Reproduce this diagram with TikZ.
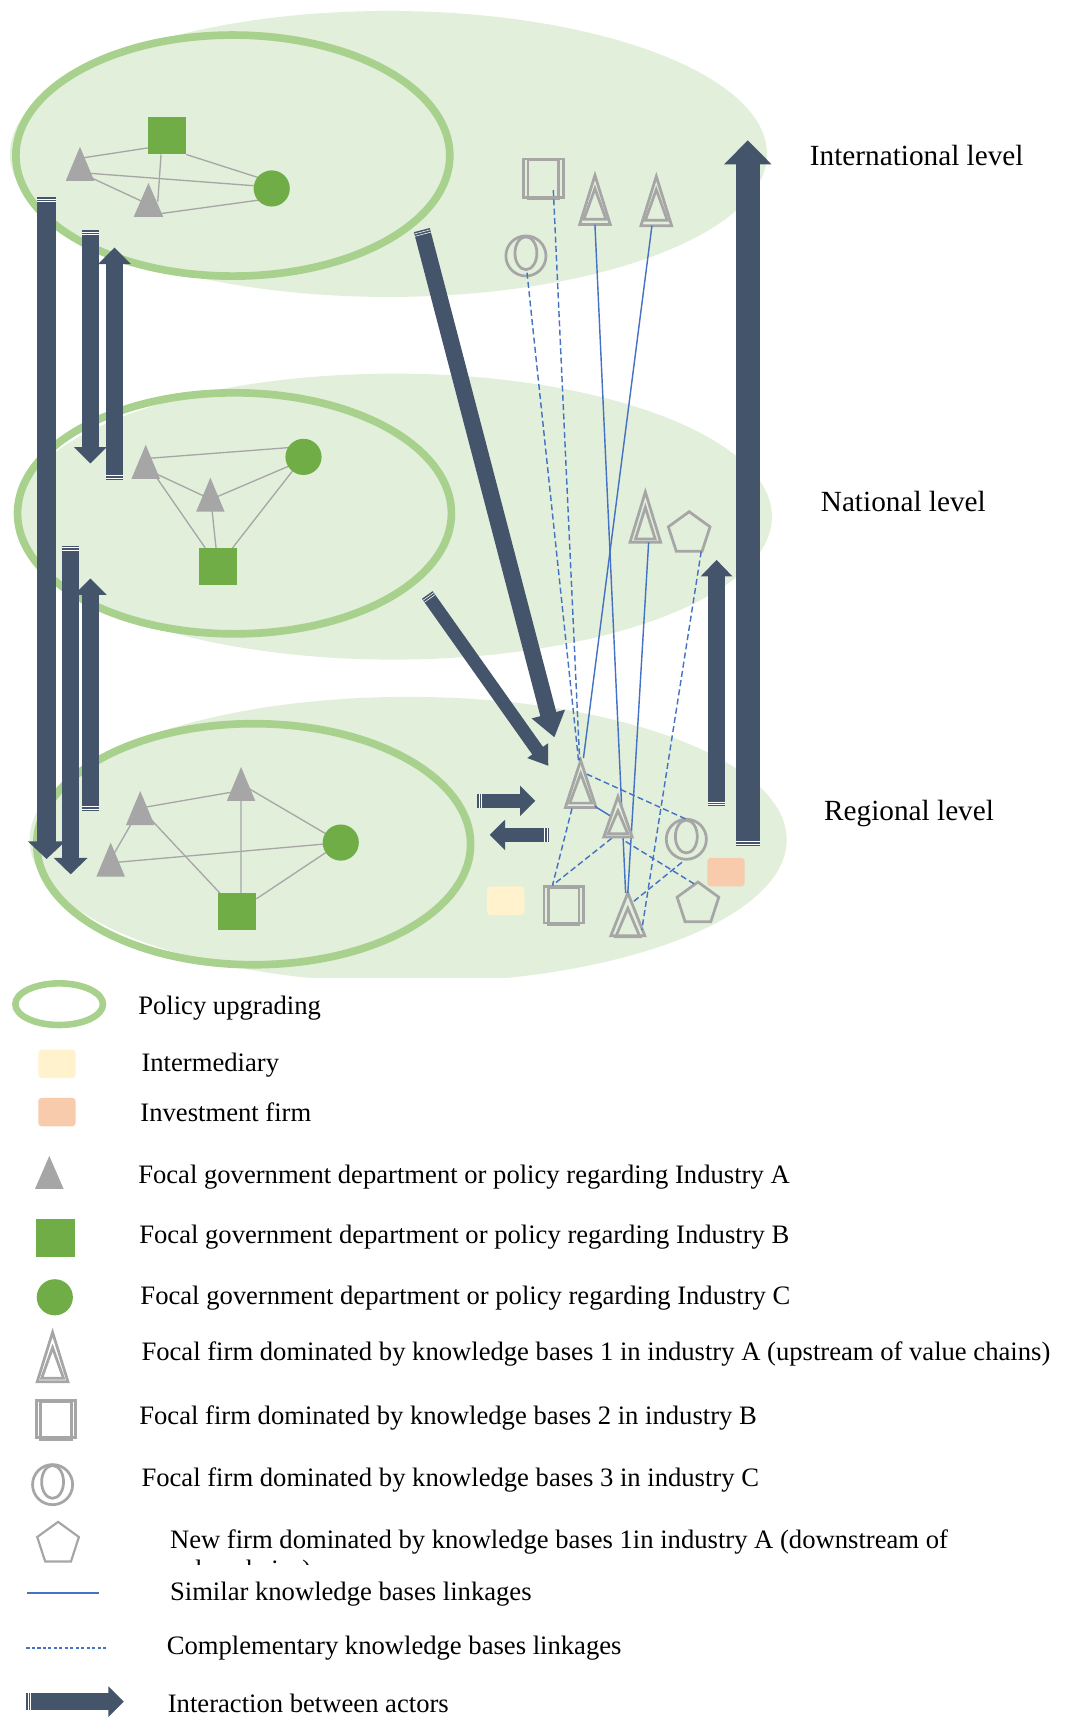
\documentclass[tikz,border=0pt]{standalone}
\usepackage{fontspec}
\setmainfont{Liberation Serif}
\usetikzlibrary{arrows.meta,calc,shapes.geometric}
\definecolor{bigg}{HTML}{E2EFDA}
\definecolor{ringg}{HTML}{A9D18E}
\definecolor{solidg}{HTML}{70AD47}
\definecolor{gr}{HTML}{A6A6A6}
\definecolor{darkb}{HTML}{44546A}
\definecolor{linkb}{HTML}{4472C4}
\definecolor{yel}{HTML}{FFF2CC}
\definecolor{ora}{HTML}{F8CBAD}
\tikzset{
 lab/.style={font=\fontsize{24.3}{28}\selectfont,anchor=base west,inner sep=0pt,text=black},
 levlab/.style={lab,font=\fontsize{26.7}{30}\selectfont},
 ringe/.style={draw=ringg,line width=7pt},
 anch/.style={inner sep=0pt,outer sep=0pt},
 govsq/.style={anch,minimum width=35pt,minimum height=34pt},
 govci/.style={anch,circle,minimum size=33pt},
 ed/.style={gr,line width=1.2pt},
 sim/.style={linkb,line width=1.3pt},
 comp/.style={linkb,line width=1.3pt,dash pattern=on 5.5pt off 3pt},
 firm/.style={draw=gr,line width=2.5pt,line join=miter},
 penta/.style={anch,regular polygon,regular polygon sides=5,draw=gr,line width=2.5pt,minimum size=40pt},
 rr/.style={anch,rounded corners=3pt,minimum width=34pt,minimum height=26pt},
 flowline/.style={darkb}
}
% government triangle: name, x, y apex, y base, half width
\newcommand\gt[5]{\node[anch,minimum width=#5*2pt,minimum height=#4pt-#3pt] (#1) at (#2,{(#3+#4)/2}) {};}
\newcommand\gtf[1]{\fill[gr] (#1.south west)--(#1.south east)--(#1.north)--cycle;}
% government square and circle fills, laid over the connectors
\newcommand\gsf[1]{\fill[solidg] (#1.south west) rectangle (#1.north east);}
\newcommand\gcf[1]{\fill[solidg] (#1.center) circle [radius=16.5pt];}
% firm triangle outline: x, apex, base, half width, inner apex offset, inner base offset, inner half width
\newcommand\ftd[7]{\draw[firm] (#1-#4,#3)--(#1+#4,#3)--(#1,#2)--cycle;
 \draw[firm] (#1-#7,#3-#6)--(#1+#7,#3-#6)--(#1,#2+#5)--cycle;}
\newcommand\ftn[5]{\node[anch,minimum width=#5*2pt,minimum height=#4pt-#3pt] (#1) at (#2,{(#3+#4)/2}) {};}
\newcommand\ft[8]{\ftn{#1}{#2}{#3}{#4}{#5}\ftd{#2}{#3}{#4}{#5}{#6}{#7}{#8}}
% firm square
\newcommand\fs[5]{\node[anch,minimum width=#4pt-#2pt,minimum height=#5pt-#3pt] (#1) at ({(#2+#4)/2},{(#3+#5)/2}) {};
 \draw[firm] (#2,#3) rectangle (#4,#5);
 \draw[firm] (#2+4,#3+1) rectangle (#4-4,#5+1.5);}
% firm circle
\newcommand\fc[3]{\node[anch,circle,minimum size=36.6pt] (#1) at (#2,#3) {};
 \draw[firm] (#2,#3) ellipse [x radius=18.3pt,y radius=18.3pt];
 \draw[firm] (#2,#3-2.5) ellipse [x radius=10pt,y radius=15pt];}
% block arrow: tail, head, shaft, head width, head length
\newcommand\flow[5]{\draw[flowline,line width=#3pt,-{Triangle[length=#5pt,width=#4pt]}] (#1)--(#2);
 \foreach \d in {1.7,3.9} {\coordinate (s) at ($(#1)!\d pt!(#2)$);
  \draw[white,line width=.5pt] ($(s)!#3*0.5pt!90:(#2)$)--($(s)!#3*0.5pt!-90:(#2)$);}}
\begin{document}
\begin{tikzpicture}[x=1pt,y=-1pt]
\useasboundingbox (0,0) rectangle (974,1568);
% level ellipses
\begin{scope}
\clip (0,0) rectangle (974,892);
\fill[bigg] (354.5,140.5) ellipse [x radius=345.5pt,y radius=130.5pt];
\fill[bigg] (359,471.5) ellipse [x radius=345.5pt,y radius=130.5pt];
\fill[bigg] (372.5,766.5) ellipse [x radius=345.5pt,y radius=130.5pt];
\end{scope}
\draw[ringe] (212.5,142) ellipse [x radius=198pt,y radius=110pt];
\draw[ringe] (214,468.5) ellipse [x radius=198pt,y radius=110pt];
\draw[ringe] (231.5,770.5) ellipse [x radius=198pt,y radius=110pt];
% International actors
\gt{ia}{73}{134}{165}{13}
\gt{ib}{135.5}{167}{198}{13.5}
\node[govsq] (ic) at (152.5,124) {};
\node[govci] (id) at (248,172) {};
\draw[ed] ([yshift=5pt]ia.center)--([yshift=-11pt]ic.west) ([yshift=-8pt]ia.center)--([yshift=2.5pt]id.west)
 ([yshift=-8pt]ia.center)--([yshift=-4pt]ib.center)
 ([xshift=-5.5pt]ic.south)--([xshift=8.5pt,yshift=-17pt]ib.north) (ic.south east)--([yshift=6pt]id.center)
 ([yshift=-14pt]ib.center)--([yshift=-9pt]id.center);
\gtf{ia}\gtf{ib}\gsf{ic}\gcf{id}
% National actors
\gt{na}{133}{406}{437}{13}
\gt{nb}{192}{436}{467}{13}
\node[govsq] (nc) at (199,517) {};
\node[govci] (nd) at (277,417) {};
\draw[ed] ([yshift=3pt]na.center)--([yshift=9.5pt]nd.center) ([yshift=-6.5pt]na.center)--([yshift=-4pt]nb.center)
 ([yshift=-4.5pt]nb.center)--([yshift=-2.7pt]nd.center) (na.center)--(nc) (nb.center)--(nc) (nd)--(nc);
\gtf{na}\gtf{nb}\gsf{nc}\gcf{nd}
% Regional actors
\gt{ra}{128}{722}{753}{13}
\gt{rb}{220}{700}{731}{13}
\gt{re}{101}{769}{800}{13}
\node[govsq] (rc) at (216.5,832) {};
\node[govci] (rd) at (311,769) {};
\draw[ed] (ra.center)--([yshift=-6pt]rb.center) (ra.center)--(re.center) (ra.center)--(rc) (rb.center)--([xshift=3.5pt]rc.center) (rb.center)--(rd) ([yshift=-3pt]re.center)--(rd) (rc)--(rd);
\gtf{ra}\gtf{rb}\gtf{re}\gsf{rc}\gcf{rd}
% intermediaries
\node[rr,fill=yel] (ry) at (461.5,822) {};
\node[rr,fill=ora] (ro) at (662.5,796) {};
% firms
\fs{fsq}{478}{145}{514}{180}
\ft{fta}{543}{160}{205}{14}{12}{5}{10}
\ft{ftb}{599}{161}{206}{14}{12}{5}{10}
\fc{fci}{480}{233.6}
\ft{ntc}{589}{449}{495}{14}{14}{3}{9}
\node[penta] (npe) at (629,487) {};
\ft{rtd}{530}{694}{737}{14}{12}{4}{10}
\ftn{rte}{564}{727}{764}{13}
\ft{rtf}{573}{815}{854}{15.5}{14}{-1}{11}
\fs{rsq}{496.6}{809}{532.5}{842.5}
\fc{rci}{626.4}{766}
\node[penta] (rpe) at (637,825) {};
% linkages
\draw[sim] (fta.south)--([xshift=-2pt]rtf.north);
\draw[sim] ([xshift=-4pt]ftb.south)--([xshift=2.5pt,yshift=2pt]rtd.north);
\draw[sim] ([xshift=3pt]ntc.south)--(rtf.north);
\draw[sim] ([xshift=13pt,yshift=1pt]rtd.south)--([xshift=-5.6pt]rte.center);
\draw[comp] ([xshift=1pt,yshift=3pt]fci.south)--([xshift=-2pt]rtd.north);
\draw[comp] ([xshift=27pt,yshift=6.5pt]fsq.south west)--([xshift=-1pt]rtd.north);
\draw[comp] ([xshift=11pt]npe.south)--([xshift=12.7pt,yshift=5pt]rtf.south);
\draw[comp] ([xshift=5.5pt,yshift=30.5pt]rtd.south)--(rci.north);
\draw[comp] ([xshift=-8pt,yshift=-1pt]rtd.south)--([xshift=-10.3pt,yshift=1pt]rsq.north);
\draw[comp] ([xshift=-5.6pt,yshift=-1pt]rte.south)--([xshift=-10.3pt,yshift=1pt]rsq.north);
\draw[comp] ([xshift=7pt,yshift=-4pt]rte.south)--([xshift=-3pt,yshift=-2pt]rpe.north);
\draw[comp] ([xshift=-4pt,yshift=-2.7pt]rci.south)--([xshift=5pt,yshift=-8pt]rtf.north);
% this firm's triangle hides the linkage passing behind it
\fill[bigg] (rte.south west)--(rte.south east)--(rte.north)--cycle;
\ftd{564}{727}{764}{13}{13}{3}{9}
% flows
\coordinate (a1t) at (42.5,180); \coordinate (a1h) at (42.5,784);
\coordinate (a2t) at (82.5,210); \coordinate (a2h) at (82.5,423);
\coordinate (a3t) at (104.5,438); \coordinate (a3h) at (104.5,226);
\coordinate (a4t) at (64.5,498); \coordinate (a4h) at (64.5,798);
\coordinate (a5t) at (82.5,740); \coordinate (a5h) at (82.5,528);
\coordinate (a6t) at (385,210); \coordinate (a6h) at (506,673);
\coordinate (a7t) at (390,543); \coordinate (a7h) at (500.5,699);
\coordinate (a8t) at (654,736); \coordinate (a8h) at (654,511);
\coordinate (a9t) at (682.5,772); \coordinate (a9h) at (682.5,128);
\coordinate (a10t) at (435.6,731); \coordinate (a10h) at (488.6,731);
\coordinate (a11t) at (501,762); \coordinate (a11h) at (447,762);
\flow{a1t}{a1h}{18}{33}{16}
\flow{a2t}{a2h}{15}{29}{15}
\flow{a3t}{a3h}{15}{29}{15}
\flow{a4t}{a4h}{15}{30}{15}
\flow{a5t}{a5h}{15}{29}{15}
\flow{a6t}{a6h}{15}{30}{22}
\flow{a7t}{a7h}{12}{22}{17}
\flow{a8t}{a8h}{15}{28}{15}
\flow{a9t}{a9h}{22}{42}{22}
\flow{a10t}{a10h}{13.4}{27}{14}
\flow{a11t}{a11h}{13.4}{27}{14}
% level labels
\node[levlab] (l1) at (739,151.5) {International level};
\node[levlab] (l2) at (749,466.5) {National level};
\node[levlab] (l3) at (752,748.5) {Regional level};
% legend
\draw[ringg,line width=6pt] (54,916.5) ellipse [x radius=40pt,y radius=19pt];
\node[lab] (t1) at (126,925.5) {Policy upgrading};
\node[rr,fill=yel] (ly) at (52,971) {};
\node[lab] (t2) at (129,977.5) {Intermediary};
\node[rr,fill=ora] (lo) at (52,1015) {};
\node[lab] (t3) at (128,1024) {Investment firm};
\gt{lga}{45}{1055}{1085}{13}\gtf{lga}
\node[lab] (t4) at (126,1080) {Focal government department or policy regarding Industry A};
\node[govsq,fill=solidg] (lgb) at (50.5,1130) {};
\node[lab] (t5) at (127,1135) {Focal government department or policy regarding Industry B};
\node[govci,fill=solidg] (lgc) at (50,1184) {};
\node[lab] (t6) at (128,1191) {Focal government department or policy regarding Industry C};
\ft{lfa}{48}{1216}{1261}{14}{14}{3}{10}
\node[lab] (t7) at (129,1242) {Focal firm dominated by knowledge bases 1 in industry A (upstream of value chains)};
\fs{lfb}{33}{1278}{69}{1312}
\node[lab] (t8) at (127,1300) {Focal firm dominated by knowledge bases 2 in industry B};
\fc{lfc}{48}{1355}
\node[lab] (t9) at (129,1357) {Focal firm dominated by knowledge bases 3 in industry C};
\node[penta,line width=2pt] (lfd) at (53,1409) {};
\node[lab] (t10) at (155,1413) {New firm dominated by knowledge bases 1in industry A (downstream of};
\begin{scope}
\clip (150,1420) rectangle (500,1427.5);
\node[lab] (t10b) at (155,1441) {value chains)};
\end{scope}
\coordinate (ls1) at (25,1454); \coordinate (ls2) at (90,1454);
\draw[sim] (ls1)--(ls2);
\node[lab] (t11) at (155,1461) {Similar knowledge bases linkages};
\coordinate (lc1) at (24,1504); \coordinate (lc2) at (97,1504);
\draw[linkb,line width=1.3pt,dash pattern=on 3pt off 2pt] (lc1)--(lc2);
\node[lab] (t12) at (152,1510) {Complementary knowledge bases linkages};
\coordinate (lf1) at (24,1553); \coordinate (lf2) at (113,1553);
\flow{lf1}{lf2}{15}{27}{14}
\node[lab] (t13) at (153,1563) {Interaction between actors};
\end{tikzpicture}
\end{document}
